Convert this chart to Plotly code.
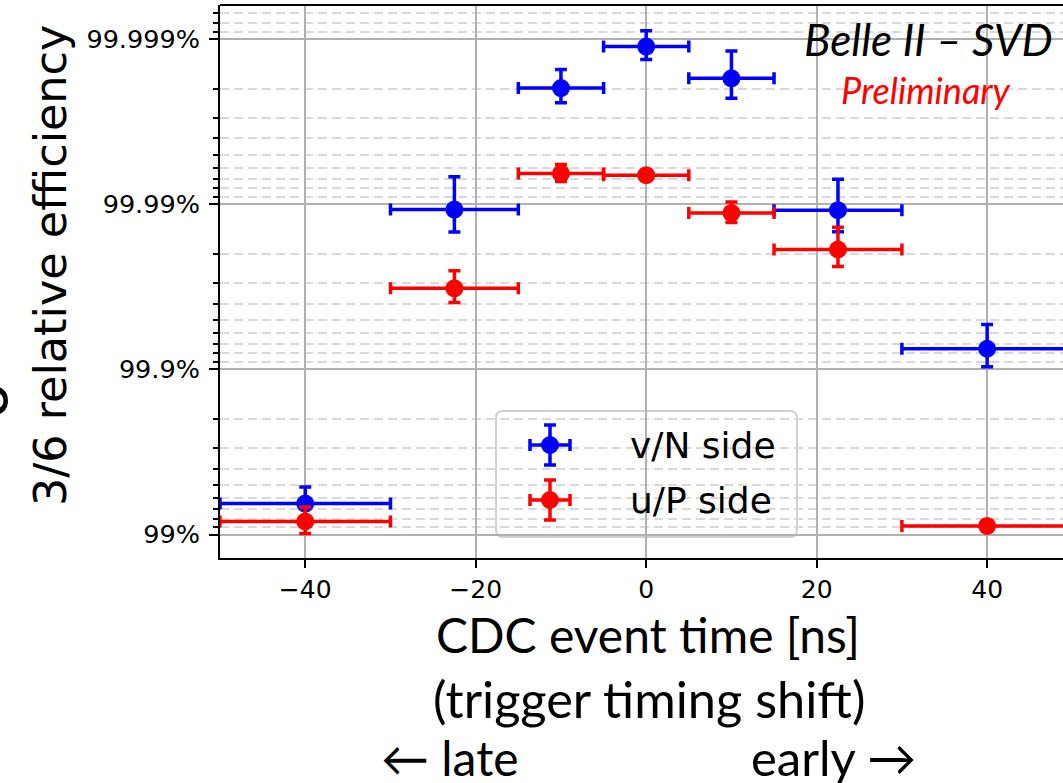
import numpy as np
import plotly.graph_objects as go

# CDC event time bins (ns) and half-widths
time_ns = [-40, -22.5, -10, 0, 10, 22.5, 40]
time_halfwidth = [10, 7.5, 5, 5, 5, 7.5, 10]

# 3/6 relative efficiency (%) and its uncertainty (%)
eff_vN = [99.351, 99.98923, 99.99802, 99.99889, 99.99827, 99.98913, 99.925]
err_vN = [0.134, 0.00395, 0.00045, 0.00022, 0.00055, 0.0038, 0.0215]
eff_uP = [99.166, 99.9677, 99.99348, 99.99333, 99.9887, 99.9812, 99.113]
err_uP = [0.152, 0.0070, 0.00077, 0.0004, 0.0016, 0.0050, 0.05]

series = [
    ("v/N side", eff_vN, err_vN, "#0000ff"),
    ("u/P side", eff_uP, err_uP, "#ff0000"),
]

ytick_vals = [1e-5, 1e-4, 1e-3, 1e-2]
ytick_text = ["99.999%", "99.99%", "99.9%", "99%"]
xtick_vals = [-40, -20, 0, 20, 40]

W, H = 1063, 783
ML, MR, MT, MB = 220, 0, 5, 225
PW, PH = W - ML - MR, H - MT - MB

TICK_FONT = "DejaVu Sans"
TEXT_FONT = "Lato"

fig = go.Figure()

# the efficiency axis is drawn as a log scale of the inefficiency (1 - eff)
for name, eff, err, color in series:
    ineff = [1 - e / 100 for e in eff]
    dy = [e / 100 for e in err]
    fig.add_trace(go.Scatter(
        x=time_ns, y=ineff, mode="markers", name=name, showlegend=False,
        marker=dict(color=color, size=18, line=dict(width=0)),
        error_x=dict(type="data", array=time_halfwidth, color=color,
                     thickness=3.5, width=6),
        error_y=dict(type="data", array=dy, color=color,
                     thickness=3.5, width=6),
    ))

# minor grid positions: 2..9 within each decade
minor_vals = [m * 10.0 ** d for d in range(-6, -1) for m in range(2, 10)]

fig.update_xaxes(
    range=[-50, 48.9], tickvals=xtick_vals,
    ticktext=[f"\u2212{abs(v)}" if v < 0 else str(v) for v in xtick_vals],
    ticks="outside", ticklen=8, tickwidth=2, tickcolor="black",
    tickfont=dict(family=TICK_FONT, size=25, color="black"),
    showline=True, linecolor="black", linewidth=2,
    showgrid=True, gridcolor="#b0b0b0", gridwidth=2,
    zeroline=False,
)
fig.update_yaxes(
    type="log", range=[np.log10(1.387e-2), np.log10(6.22e-6)],
    tickvals=ytick_vals, ticktext=ytick_text,
    ticks="outside", ticklen=9, tickwidth=2, tickcolor="black",
    tickfont=dict(family=TICK_FONT, size=25.5, color="black"),
    ticklabelstandoff=4,
    showline=True, linecolor="black", linewidth=2,
    showgrid=True, gridcolor="#b0b0b0", gridwidth=2,
    zeroline=False,
    minor=dict(tickvals=minor_vals, ticks="outside", ticklen=5, tickwidth=1.5,
               tickcolor="black", showgrid=True, gridcolor="#d9d9d9",
               gridwidth=2, griddash="9px,5px"),
)

# overlay axes in unit coordinates used for the legend keys
fig.update_layout(
    xaxis2=dict(overlaying="x", range=[0, 1], visible=False),
    yaxis2=dict(overlaying="y", range=[0, 1], visible=False),
)

# top spine
fig.add_shape(type="line", xref="paper", yref="paper", x0=0, x1=1, y0=1, y1=1,
              line=dict(color="black", width=2), layer="above")


def px_x(px):
    return (px - ML) / PW


def px_y(py):
    return (H - MB - py) / PH


# legend frame with rounded corners
bx0, bx1, by0, by1 = px_x(496), px_x(797), px_y(537), px_y(411)
rx, ry = 7 / PW, 7 / PH
frame = (f"M {bx0 + rx},{by0} L {bx1 - rx},{by0} Q {bx1},{by0} {bx1},{by0 + ry} "
         f"L {bx1},{by1 - ry} Q {bx1},{by1} {bx1 - rx},{by1} "
         f"L {bx0 + rx},{by1} Q {bx0},{by1} {bx0},{by1 - ry} "
         f"L {bx0},{by0 + ry} Q {bx0},{by0} {bx0 + rx},{by0} Z")
fig.add_shape(type="path", path=frame, xref="paper", yref="paper",
              fillcolor="rgba(255,255,255,0.8)",
              line=dict(color="#d0d0d0", width=2), layer="between")

legend_rows = [445, 500]
for (name, eff, err, color), row in zip(series, legend_rows):
    fig.add_trace(go.Scatter(
        x=[px_x(550)], y=[px_y(row)], xaxis="x2", yaxis="y2", mode="markers",
        showlegend=False, hoverinfo="skip",
        marker=dict(color=color, size=18, line=dict(width=0)),
        error_x=dict(type="constant", value=20 / PW, color=color, thickness=3.5, width=6),
        error_y=dict(type="constant", value=20 / PH, color=color, thickness=3.5, width=6),
    ))
    fig.add_annotation(x=px_x(628), y=px_y(row), xref="paper", yref="paper",
                       text=name, showarrow=False, xanchor="left", yanchor="middle",
                       font=dict(family=TICK_FONT, size=36, color="black"))

# experiment label
fig.add_annotation(x=px_x(928), y=px_y(39), xref="paper", yref="paper",
                   text="<i>Belle II \u2013 SVD</i>", showarrow=False,
                   xanchor="center", yanchor="middle",
                   font=dict(family=TEXT_FONT, size=44, color="black"))
fig.add_annotation(x=px_x(926), y=px_y(90), xref="paper", yref="paper",
                   text="<i>Preliminary</i>", showarrow=False,
                   xanchor="center", yanchor="middle",
                   font=dict(family=TEXT_FONT, size=36, color="#ff0000"))

# axis titles
fig.add_annotation(x=px_x(50), y=px_y(266), xref="paper", yref="paper",
                   text="3/6 relative efficiency", textangle=-90, showarrow=False,
                   xanchor="center", yanchor="middle",
                   font=dict(family=TICK_FONT, size=44.5, color="black"))
fig.add_annotation(x=px_x(-14), y=px_y(401), xref="paper", yref="paper",
                   text="o", textangle=-90, showarrow=False,
                   xanchor="center", yanchor="middle",
                   font=dict(family=TICK_FONT, size=60, color="black"))

xtitle_lines = [
    ("CDC event time [ns]", 648, 634, 48),
    ("(trigger timing shift)", 649, 698, 50.5),
    ("\u2190 late", 450, 757, 48),
    ("early \u2192", 833, 757, 49),
]
for text, cx, cy, size in xtitle_lines:
    fig.add_annotation(x=px_x(cx), y=px_y(cy), xref="paper", yref="paper",
                       text=text, showarrow=False, xanchor="center", yanchor="middle",
                       font=dict(family=TEXT_FONT, size=size, color="black"))

fig.update_layout(
    width=W, height=H,
    margin=dict(l=ML, r=MR, t=MT, b=MB),
    plot_bgcolor="white", paper_bgcolor="white",
    showlegend=False,
)

fig.write_html("out.html")
